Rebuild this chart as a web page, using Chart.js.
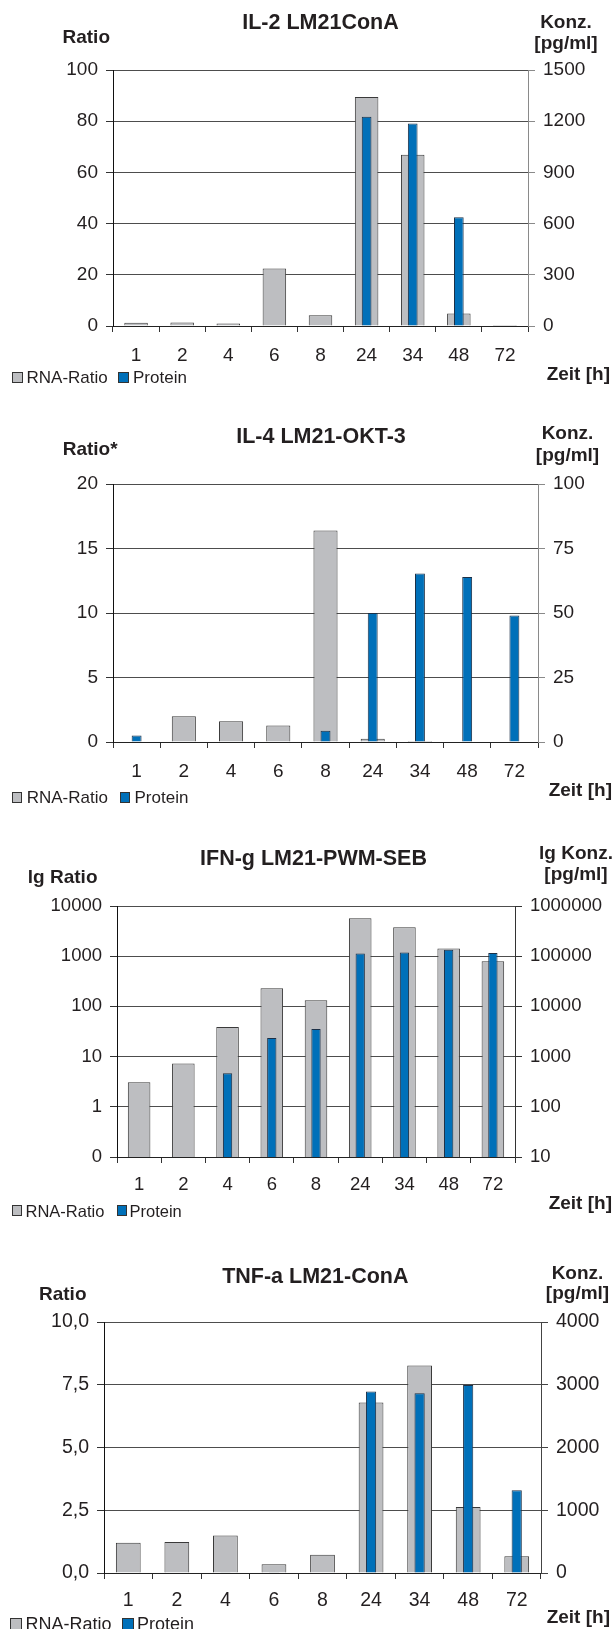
<!DOCTYPE html>
<html>
<head>
<meta charset="utf-8">
<title>Zytokin-Kinetik LM21</title>
<script src="https://cdn.jsdelivr.net/npm/chart.js@4/dist/chart.umd.min.js"></script>
<style>
  html, body { margin: 0; padding: 0; background: #fff; }
  #page { position: relative; width: 613px; height: 1629px; overflow: hidden; background: #fff; }
  #page canvas { position: absolute; left: 0; }
  .t { position: absolute; white-space: nowrap; color: #231f20; }
  .sw { position: absolute; box-sizing: border-box; border: 1px solid #333; }
</style>
</head>
<body>
<div id="page"></div>
<script>
// Sampling times (hours)
const hours = ['1', '2', '4', '6', '8', '24', '34', '48', '72'];

// IL-2, LM21 + ConA
const il2Rna = [1.3, 1.4, 1.0, 22.5, 4.2, 89.5, 66.9, 4.9, 0.4];
const il2Protein = [3, 3, 3, 3, 3, 1226, 1187, 637, 3];
const il2RatioTicks = [0, 20, 40, 60, 80, 100];
const il2KonzTicks = [0, 300, 600, 900, 1200, 1500];

// IL-4, LM21 + OKT-3
const il4Rna = [0, 2.0, 1.6, 1.27, 16.4, 0.26, 0.08, 0, 0];
const il4Protein = [2.5, 0, 0, 0, 4.4, 50, 65.3, 64, 49];
const il4RatioTicks = [0, 5, 10, 15, 20];
const il4KonzTicks = [0, 25, 50, 75, 100];

// IFN-gamma, LM21 + PWM/SEB (logarithmic axes)
const ifnRna = [3.1, 7.3, 38.8, 231, 132, 5690, 3770, 1420, 795];
const ifnProtein = [null, null, 467, 2350, 3545, 113000, 118000, 134000, 116000];
const ifnRatioTicks = [0.1, 1, 10, 100, 1000, 10000];
const ifnRatioLabels = ['0', '1', '10', '100', '1000', '10000'];
const ifnKonzTicks = [10, 100, 1000, 10000, 100000, 1000000];

// TNF-alpha, LM21 + ConA
const tnfRna = [1.21, 1.24, 1.49, 0.35, 0.73, 6.79, 8.27, 2.63, 0.67];
const tnfProtein = [0, 0, 10, 10, 0, 2892, 2865, 2995, 1320];
const tnfRatioTicks = [0, 2.5, 5, 7.5, 10];
const tnfRatioLabels = ['0,0', '2,5', '5,0', '7,5', '10,0'];
const tnfKonzTicks = [0, 1000, 2000, 3000, 4000];

const FONT = '"Liberation Sans", Arial, Helvetica, sans-serif';
const INK = '#231f20';
const GRID = '#4d4d4d';
const RNA_FILL = '#bdbec1';
const RNA_EDGE = '#3a3a3a';
const PROT_FILL = '#0070b9';
const PROT_EDGE = '#1c3047';
const W = 613;

Chart.defaults.font.family = FONT;
Chart.defaults.color = INK;

const page = document.getElementById('page');

// Text placed by its baseline
function txt(s, x, base, size, align, bold) {
  const d = document.createElement('div');
  d.className = 't';
  d.textContent = s;
  d.style.font = (bold ? 'bold ' : '') + size + 'px ' + FONT;
  d.style.lineHeight = '0px';
  d.style.top = (base - 0.3465 * size) + 'px';
  if (align === 'left') {
    d.style.left = x + 'px';
  } else if (align === 'right') {
    d.style.right = (W - x) + 'px';
  } else {
    d.style.left = x + 'px';
    d.style.transform = 'translateX(-50%)';
  }
  page.appendChild(d);
}

function swatch(x, y, size, fill) {
  const d = document.createElement('div');
  d.className = 'sw';
  d.style.left = x + 'px';
  d.style.top = y + 'px';
  d.style.width = size + 'px';
  d.style.height = size + 'px';
  d.style.background = fill;
  page.appendChild(d);
}

function valueAxis(o) {
  return {
    type: o.log ? 'logarithmic' : 'linear',
    position: o.position,
    min: o.ticks[0],
    max: o.ticks[o.ticks.length - 1],
    grid: {
      drawOnChartArea: o.position === 'left',
      color: GRID,
      tickColor: o.tickColor,
      tickLength: 7,
      lineWidth: 1
    },
    border: { color: o.borderColor, width: 1 },
    ticks: {
      autoSkip: false,
      padding: 8,
      color: INK,
      font: { size: o.fontSize },
      callback: (v, i) => o.labels[i]
    },
    afterBuildTicks: s => { s.ticks = o.ticks.map(v => ({ value: v })); },
    afterFit: s => { s.width = o.width; }
  };
}

function makeChart(c) {
  const cv = document.createElement('canvas');
  cv.width = W;
  cv.height = c.h;
  cv.style.top = c.top + 'px';
  cv.style.width = W + 'px';
  cv.style.height = c.h + 'px';
  page.appendChild(cv);

  new Chart(cv, {
    type: 'bar',
    data: {
      labels: hours,
      datasets: [
        {
          label: 'RNA-Ratio', data: c.rna, yAxisID: 'y',
          backgroundColor: RNA_FILL, borderColor: RNA_EDGE, borderWidth: 1,
          grouped: false, categoryPercentage: 1, barPercentage: 0.51, order: 2
        },
        {
          label: 'Protein', data: c.protein, yAxisID: 'y2',
          backgroundColor: PROT_FILL, borderColor: PROT_EDGE, borderWidth: 1,
          grouped: false, categoryPercentage: 1, barPercentage: 0.21, order: 1
        }
      ]
    },
    options: {
      responsive: false,
      animation: false,
      devicePixelRatio: 1,
      layout: { padding: { top: c.plotTop - c.top, left: 0, right: 0, bottom: 0 } },
      plugins: { legend: { display: false }, title: { display: false }, tooltip: { enabled: false } },
      scales: {
        x: {
          type: 'category',
          offset: true,
          grid: { offset: true, drawOnChartArea: false, tickLength: 6, color: '#333', lineWidth: 1 },
          border: { color: '#222', width: 1 },
          ticks: { autoSkip: false, maxRotation: 0, padding: c.xPad, color: INK, font: { size: c.tickSize } },
          afterFit: s => { s.height = c.top + c.h - c.plotBottom; }
        },
        y: valueAxis({
          position: 'left', log: c.log, ticks: c.leftTicks, labels: c.leftLabels,
          width: c.plotLeft, borderColor: '#111', tickColor: '#333', fontSize: c.tickSize
        }),
        y2: valueAxis({
          position: 'right', log: c.log, ticks: c.rightTicks, labels: c.rightLabels,
          width: W - c.plotRight, borderColor: c.rightColor, tickColor: c.rightColor, fontSize: c.tickSize
        })
      }
    }
  });

  // headings, axis units, legend
  txt(c.title, c.titleX, c.titleBase, 21.5, 'center', true);
  txt(c.leftTitle, c.leftTitleX, c.leftTitleBase, 19, c.leftTitleAlign, true);
  txt(c.rightTitle1, c.rightTitleX, c.rightTitleBase1, 19, 'center', true);
  txt('[pg/ml]', c.rightTitleX, c.rightTitleBase2, 19, 'center', true);
  txt('Zeit [h]', c.zeitRight, c.zeitBase, 19, 'right', true);
  const L = c.legend;
  swatch(L.sq1, L.sqTop, L.sq, RNA_FILL);
  txt('RNA-Ratio', L.t1, L.base, L.size, 'left', false);
  swatch(L.sq2, L.sqTop, L.sq, PROT_FILL);
  txt('Protein', L.t2, L.base, L.size, 'left', false);
}

const fmt = a => a.map(v => String(v));

makeChart({
  top: 0, h: 400, plotTop: 70, plotBottom: 326, plotLeft: 113, plotRight: 528,
  xPad: 12, tickSize: 19, rightColor: '#8a8a8a',
  rna: il2Rna, protein: il2Protein,
  leftTicks: il2RatioTicks, leftLabels: fmt(il2RatioTicks),
  rightTicks: il2KonzTicks, rightLabels: fmt(il2KonzTicks),
  title: 'IL-2 LM21ConA', titleX: 320.5, titleBase: 29.5,
  leftTitle: 'Ratio', leftTitleX: 62.5, leftTitleBase: 44, leftTitleAlign: 'left',
  rightTitle1: 'Konz.', rightTitleX: 566, rightTitleBase1: 28.3, rightTitleBase2: 49.5,
  zeitRight: 610, zeitBase: 380.5,
  legend: { sq1: 11.5, sq2: 118, sqTop: 372, sq: 11, t1: 26.5, t2: 133, base: 384, size: 17 }
});

makeChart({
  top: 400, h: 410, plotTop: 484, plotBottom: 742, plotLeft: 113, plotRight: 538,
  xPad: 12, tickSize: 19, rightColor: '#8a8a8a',
  rna: il4Rna, protein: il4Protein,
  leftTicks: il4RatioTicks, leftLabels: fmt(il4RatioTicks),
  rightTicks: il4KonzTicks, rightLabels: fmt(il4KonzTicks),
  title: 'IL-4 LM21-OKT-3', titleX: 321, titleBase: 443.3,
  leftTitle: 'Ratio*', leftTitleX: 62.7, leftTitleBase: 456, leftTitleAlign: 'left',
  rightTitle1: 'Konz.', rightTitleX: 567.5, rightTitleBase1: 440, rightTitleBase2: 461.5,
  zeitRight: 612, zeitBase: 796.5,
  legend: { sq1: 11.8, sq2: 119.5, sqTop: 792, sq: 10.5, t1: 26.7, t2: 134.5, base: 803.5, size: 17 }
});

makeChart({
  top: 810, h: 420, plotTop: 906, plotBottom: 1157, plotLeft: 117, plotRight: 515,
  xPad: 10.5, tickSize: 18.5, rightColor: '#333', log: true,
  rna: ifnRna, protein: ifnProtein,
  leftTicks: ifnRatioTicks, leftLabels: ifnRatioLabels,
  rightTicks: ifnKonzTicks, rightLabels: fmt(ifnKonzTicks),
  title: 'IFN-g LM21-PWM-SEB', titleX: 313.5, titleBase: 865,
  leftTitle: 'lg Ratio', leftTitleX: 97.5, leftTitleBase: 883.3, leftTitleAlign: 'right',
  rightTitle1: 'lg Konz.', rightTitleX: 576, rightTitleBase1: 860, rightTitleBase2: 881,
  zeitRight: 612, zeitBase: 1209.5,
  legend: { sq1: 11.8, sq2: 116.5, sqTop: 1205, sq: 10.5, t1: 25.5, t2: 129.5, base: 1217, size: 16.5 }
});

makeChart({
  top: 1230, h: 399, plotTop: 1322, plotBottom: 1573, plotLeft: 104, plotRight: 541,
  xPad: 10, tickSize: 19.5, rightColor: '#444',
  rna: tnfRna, protein: tnfProtein,
  leftTicks: tnfRatioTicks, leftLabels: tnfRatioLabels,
  rightTicks: tnfKonzTicks, rightLabels: fmt(tnfKonzTicks),
  title: 'TNF-a LM21-ConA', titleX: 315.3, titleBase: 1283.3,
  leftTitle: 'Ratio', leftTitleX: 39, leftTitleBase: 1300.7, leftTitleAlign: 'left',
  rightTitle1: 'Konz.', rightTitleX: 577.5, rightTitleBase1: 1280, rightTitleBase2: 1300,
  zeitRight: 610, zeitBase: 1624,
  legend: { sq1: 10, sq2: 122, sqTop: 1618, sq: 11.5, t1: 25.5, t2: 137, base: 1630.5, size: 18 }
});
</script>
</body>
</html>
